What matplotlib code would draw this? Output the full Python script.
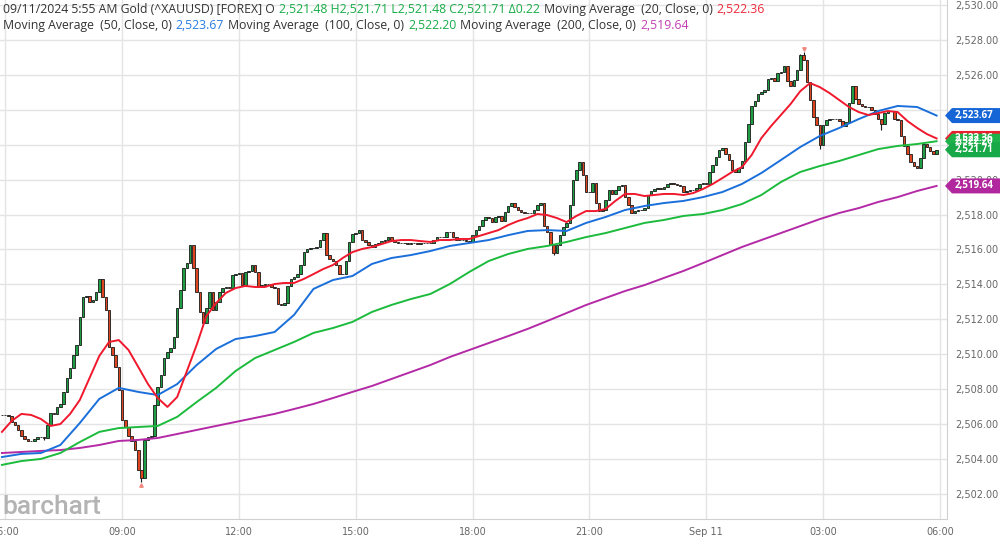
import numpy as np
import pandas as pd
import matplotlib
matplotlib.use("Agg")
import matplotlib.pyplot as plt
import matplotlib.dates as mdates
from matplotlib.patches import Polygon
from matplotlib.transforms import IdentityTransform

# 5-minute closes, 09/10 05:55 -> 09/11 05:55 (open = previous close)
closes = [
    2506.52, 2506.52, 2506.46, 2506.12, 2505.95, 2505.66, 2505.32, 2505.14, 2505.03, 2505.03, 2505.14, 2505.26,
    2505.26, 2505.20, 2505.95, 2506.63, 2506.60, 2506.98, 2507.15, 2507.84, 2508.64, 2509.21, 2509.96, 2510.53,
    2512.13, 2513.28, 2513.33, 2512.99, 2513.11, 2513.56, 2514.31, 2513.28, 2512.53, 2510.41, 2509.96, 2509.27,
    2507.95, 2506.23, 2505.83, 2505.32, 2505.03, 2504.51, 2503.37, 2502.91, 2505.09, 2505.26, 2505.32, 2507.09,
    2508.12, 2508.81, 2509.78, 2510.13, 2510.36, 2510.99, 2512.65, 2513.68, 2514.94, 2515.22, 2516.26, 2514.94,
    2513.56, 2512.42, 2511.79, 2512.65, 2513.56, 2512.53, 2512.99, 2513.56, 2513.79, 2513.85, 2513.79, 2514.54,
    2514.59, 2514.65, 2513.96, 2514.71, 2514.77, 2515.11, 2514.71, 2513.91, 2513.96, 2514.02, 2514.02, 2513.85,
    2513.79, 2512.88, 2512.82, 2512.93, 2513.91, 2514.31, 2514.42, 2514.59, 2515.11, 2515.85, 2516.03, 2516.08,
    2516.08, 2516.14, 2516.54, 2516.94, 2515.68, 2515.45, 2515.34, 2515.11, 2514.59, 2514.59, 2515.34, 2516.43,
    2516.89, 2516.94, 2517.11, 2516.54, 2516.43, 2516.26, 2516.14, 2516.31, 2516.37, 2516.48, 2516.54, 2516.71,
    2516.54, 2516.43, 2516.37, 2516.37, 2516.37, 2516.34, 2516.37, 2516.36, 2516.34, 2516.37, 2516.35, 2516.37,
    2516.38, 2516.54, 2516.71, 2516.73, 2516.70, 2517.00, 2517.00, 2516.71, 2516.54, 2516.55, 2516.53, 2516.48,
    2516.43, 2516.82, 2517.11, 2517.34, 2517.69, 2517.86, 2517.80, 2517.57, 2517.86, 2517.92, 2517.63, 2518.15,
    2518.49, 2518.66, 2518.43, 2518.26, 2518.15, 2518.09, 2518.09, 2518.09, 2518.26, 2518.55, 2518.66, 2517.34,
    2517.00, 2516.26, 2515.80, 2516.26, 2516.82, 2517.29, 2517.52, 2518.55, 2519.98, 2520.55, 2521.01, 2520.26,
    2519.29, 2519.29, 2519.81, 2518.66, 2518.20, 2518.26, 2518.83, 2519.40, 2519.18, 2519.40, 2519.63, 2519.69,
    2519.00, 2518.55, 2518.09, 2518.20, 2518.26, 2518.27, 2518.37, 2519.12, 2519.35, 2519.46, 2519.52, 2519.46,
    2519.58, 2519.75, 2519.81, 2519.75, 2519.69, 2519.63, 2519.29, 2519.35, 2519.40, 2519.41, 2519.52, 2519.75,
    2519.81, 2519.76, 2520.44, 2520.84, 2521.30, 2521.70, 2521.81, 2521.47, 2521.12, 2520.55, 2520.44, 2520.67,
    2521.07, 2522.15, 2523.18, 2524.22, 2524.50, 2524.90, 2525.02, 2525.13, 2525.76, 2525.82, 2525.65, 2526.11,
    2526.16, 2526.51, 2525.65, 2525.36, 2525.70, 2526.28, 2527.14, 2526.85, 2525.59, 2524.56, 2523.59, 2523.13,
    2521.98, 2523.13, 2523.41, 2523.47, 2523.46, 2523.48, 2523.36, 2523.07, 2523.30, 2524.39, 2525.36, 2524.62,
    2524.33, 2524.22, 2524.16, 2524.15, 2523.99, 2523.76, 2523.47, 2523.18, 2523.81, 2523.93, 2523.92, 2523.47,
    2523.41, 2522.50, 2521.93, 2521.47, 2521.01, 2520.78, 2520.67, 2521.24, 2522.04, 2521.87, 2521.64, 2521.48,
    2521.71,
]
first_open = 2506.50
wick_highs = {247: 2527.31, 246: 2527.20}
wick_lows = {43: 2502.70, 170: 2515.68, 252: 2521.78, 271: 2522.85, 13: 2505.10}

# moving averages
ma20 = [
    2505.55, 2506.18, 2506.58, 2506.52, 2506.29, 2505.89, 2506.00, 2506.58, 2507.38, 2508.64,
    2509.90, 2510.70, 2510.81, 2510.24, 2509.27, 2508.29, 2507.49, 2506.98, 2507.55, 2509.04,
    2510.53, 2512.19, 2512.93, 2513.51, 2513.79, 2513.91, 2513.85, 2513.85, 2514.02, 2514.08,
    2514.08, 2514.31, 2514.59, 2514.88, 2515.11, 2515.51, 2515.85, 2516.03, 2516.14, 2516.31,
    2516.48, 2516.54, 2516.54, 2516.48, 2516.43, 2516.54, 2516.54, 2516.60, 2516.60, 2516.77,
    2516.94, 2517.11, 2517.40, 2517.63, 2517.80, 2518.03, 2517.97, 2517.80, 2517.57, 2517.92,
    2518.20, 2518.20, 2518.32, 2518.78, 2519.18, 2519.18, 2519.06, 2519.12, 2519.18, 2519.18,
    2519.12, 2519.23, 2519.46, 2519.75, 2520.09, 2520.44, 2520.72, 2521.41, 2522.38, 2523.07,
    2523.70, 2524.33, 2525.07, 2525.53, 2525.30, 2524.96, 2524.56, 2524.16, 2523.87, 2523.70,
    2523.81, 2523.93, 2523.87, 2523.36, 2522.96, 2522.61, 2522.36,
]
ma50 = [
    2504.11, 2504.29, 2504.34, 2504.80, 2506.06, 2507.44, 2508.07, 2507.84, 2507.66, 2508.29,
    2509.38, 2510.30, 2510.87, 2511.04, 2511.27, 2512.25, 2513.74, 2514.25, 2514.48, 2515.17,
    2515.51, 2515.68, 2515.91, 2516.20, 2516.37, 2516.54, 2516.82, 2517.06, 2517.11, 2517.06,
    2517.52, 2517.86, 2518.26, 2518.49, 2518.66, 2518.78, 2519.00, 2519.29, 2519.75, 2520.38,
    2521.12, 2521.87, 2522.50, 2522.96, 2523.47, 2523.93, 2524.22, 2524.16, 2523.67,
]
ma100 = [
    2503.66, 2503.88, 2504.00, 2504.34, 2504.97, 2505.55, 2505.77, 2505.83, 2505.89, 2506.41,
    2507.26, 2508.07, 2509.04, 2509.78, 2510.24, 2510.70, 2511.22, 2511.50, 2511.85, 2512.42,
    2512.82, 2513.16, 2513.45, 2514.02, 2514.71, 2515.34, 2515.74, 2516.03, 2516.20, 2516.43,
    2516.71, 2516.94, 2517.23, 2517.52, 2517.69, 2517.92, 2518.03, 2518.26, 2518.60, 2519.12,
    2519.86, 2520.44, 2520.78, 2521.07, 2521.41, 2521.75, 2521.93, 2522.04, 2522.20,
]
ma200 = [
    2504.34, 2504.40, 2504.46, 2504.51, 2504.63, 2504.80, 2505.03, 2505.09, 2505.20, 2505.43,
    2505.66, 2505.89, 2506.12, 2506.35, 2506.58, 2506.86, 2507.15, 2507.49, 2507.84, 2508.18,
    2508.58, 2508.98, 2509.38, 2509.84, 2510.24, 2510.64, 2511.04, 2511.45, 2511.90, 2512.36,
    2512.82, 2513.22, 2513.62, 2513.96, 2514.37, 2514.77, 2515.22, 2515.68, 2516.14, 2516.54,
    2516.94, 2517.34, 2517.74, 2518.09, 2518.37, 2518.72, 2519.00, 2519.35, 2519.64,
]

x_ticks = ["06:00", "09:00", "12:00", "15:00", "18:00", "21:00", "Sep 11", "03:00", "06:00"]
y_ticks = list(range(2502, 2531, 2))
hidden_y = [2522, 2524]   # covered by the price badges in the original

GREEN = "#1f9d45"
RED = "#dc4520"
C20, C50, C100, C200 = "#f0182d", "#1a6fdb", "#1cbb3d", "#b42aa6"

start = pd.Timestamp("2024-09-10 05:55")
times = mdates.date2num(pd.date_range(start, periods=len(closes), freq="5min").to_numpy())
t20 = mdates.date2num(pd.date_range(start, periods=len(ma20), freq="15min").to_numpy())
tma = mdates.date2num(pd.date_range(start, periods=len(ma50), freq="30min").to_numpy())
tick_pos = mdates.date2num(pd.date_range("2024-09-10 06:00", periods=len(x_ticks), freq="3h").to_numpy())

closes = np.array(closes)
opens = np.concatenate([[first_open], closes[:-1]])
highs = np.maximum(opens, closes)
lows = np.minimum(opens, closes)
for k, v in wick_highs.items():
    highs[k] = v
for k, v in wick_lows.items():
    lows[k] = v

fig = plt.figure(figsize=(10, 5.41), dpi=100)
ax = fig.add_axes([0, 22 / 541, 0.947, 519 / 541])

x0 = mdates.date2num(pd.Timestamp("2024-09-10 05:52").to_datetime64())
x1 = mdates.date2num(pd.Timestamp("2024-09-11 06:11").to_datetime64())
ax.set_xlim(x0, x1)
ax.set_ylim(2500.56, 2530.29)

ax.grid(True, color="#e4e4e4", lw=1.0, zorder=0)
ax.set_axisbelow(True)

w = 5 / 1440 * 0.78
up = closes >= opens
cols = np.where(up, GREEN, RED)
ax.vlines(times, lows, highs, color="#1a1a1a", lw=0.8, zorder=2)
ax.bar(times, np.abs(closes - opens), bottom=np.minimum(opens, closes), width=w,
       color=cols, edgecolor="#1a1a1a", linewidth=0.6, zorder=3)

# high / low markers
ax.plot(times[247], highs[247] + 0.18, marker="v", ms=2.5, color="#f08a80", zorder=4)
ax.plot(times[43], lows[43] - 0.18, marker="^", ms=2.5, color="#f08a80", zorder=4)

ax.plot(tma, ma200, color=C200, lw=1.4, zorder=5, solid_joinstyle="round")
ax.plot(tma, ma100, color=C100, lw=1.4, zorder=5, solid_joinstyle="round")
ax.plot(tma, ma50, color=C50, lw=1.4, zorder=5, solid_joinstyle="round")
ax.plot(t20, ma20, color=C20, lw=1.4, zorder=5, solid_joinstyle="round")

ax.set_xticks(tick_pos)
ax.set_xticklabels(x_ticks)
ax.set_yticks(y_ticks)
ax.set_yticklabels(["" if v in hidden_y else f"{v:,.2f}" for v in y_ticks])
ax.yaxis.tick_right()
ax.tick_params(axis="y", length=0, pad=6, labelsize=7, labelcolor="#666666")
ax.tick_params(axis="x", length=0, pad=6, labelsize=7, labelcolor="#666666")
for s in ["left", "top"]:
    ax.spines[s].set_visible(False)
for s in ["right", "bottom"]:
    ax.spines[s].set_color("#d0d0d0")

fig.canvas.draw()
r = fig.canvas.get_renderer()
H = 541


def text_run(parts, x, y):
    for s, c in parts:
        t = fig.text(x, H - y, s, color=c, fontsize=8.8, family="Open Sans",
                     ha="left", va="baseline", transform=IdentityTransform(), zorder=6)
        x = t.get_window_extent(r).x1 + 4


DARK = "#333333"
text_run([("09/11/2024 5:55 AM Gold (^XAUUSD) [FOREX] O", DARK),
          ("2,521.48 H2,521.71 L2,521.48 C2,521.71 \u03940.22", "#18ad48"),
          ("Moving Average  (20, Close, 0)", DARK), ("2,522.36", "#ee2a3a")], 3, 13)
text_run([("Moving Average  (50, Close, 0)", DARK), ("2,523.67", "#2a7de1"),
          ("Moving Average  (100, Close, 0)", DARK), ("2,522.20", "#18ad48"),
          ("Moving Average  (200, Close, 0)", DARK), ("2,519.64", "#c23fb2")], 3, 29)


def badge(price, color):
    yd = ax.transData.transform((0, price))[1]
    pts = [(945, yd), (952, yd + 7.5), (1000, yd + 7.5), (1000, yd - 7.5), (952, yd - 7.5)]
    fig.add_artist(Polygon(pts, closed=True, facecolor=color, edgecolor="none",
                           transform=IdentityTransform(), zorder=7))
    fig.text(974, yd, f"{price:,.2f}", color="white", fontsize=7, weight="bold", family="Open Sans",
             ha="center", va="center", transform=IdentityTransform(), zorder=8)


badge(ma50[-1], "#1565d6")
badge(ma200[-1], "#b1289e")
badge(ma20[-1], "#e8212e")
badge(ma100[-1], "#1db34a")
badge(closes[-1], "#17a847")

fig.text(2, H - 514, "barchart", color="#b3b3b3", fontsize=19, family="Roboto", weight="medium",
         ha="left", va="baseline", transform=IdentityTransform(), zorder=6)

fig.savefig("out.png", dpi=100)
